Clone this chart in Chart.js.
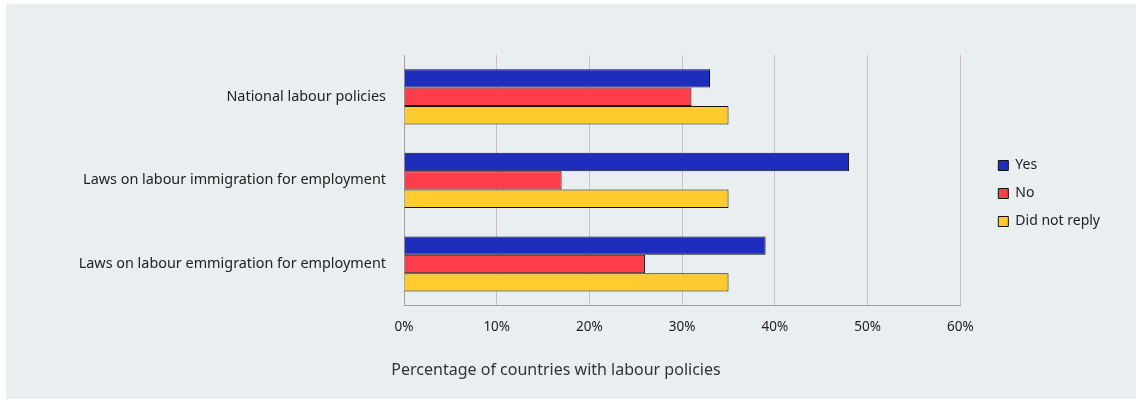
<!DOCTYPE html>
<html>
<head>
<meta charset="utf-8">
<script src="https://cdn.jsdelivr.net/npm/chart.js@4/dist/chart.umd.min.js"></script>
<style>
  body { margin: 0; background: #ffffff; }
  #panel { position: absolute; left: 6px; top: 4px; width: 1130px; height: 395px; background: #e9eef1; }
</style>
</head>
<body>
<div id="panel"><canvas id="policyChart" width="1130" height="395"></canvas></div>
<script>
// categories and series
const categories = [
    'National labour policies',
    'Laws on labour immigration for employment',
    'Laws on labour emmigration for employment'
];
const yesValues = [33, 48, 39];
const noValues = [31, 17, 26];
const noReplyValues = [35, 35, 35];
const axisTitle = 'Percentage of countries with labour policies';

Chart.defaults.font.family = '"Noto Sans", "Open Sans", sans-serif';
Chart.defaults.font.size = 14;
Chart.defaults.color = '#222222';

// bottom caption, drawn under the tick labels
const captionPlugin = {
    id: 'caption',
    afterLayout(chart) {
        // keep a wider gap between the plot and the legend
        chart.legend.left += 24;
        chart.legend.right += 24;
        chart.legend.top -= 8;
        chart.legend.bottom -= 8;
    },
    afterDraw(chart) {
        const c = chart.ctx;
        c.save();
        c.font = '16px "Noto Sans", sans-serif';
        c.fillStyle = '#333333';
        c.textAlign = 'center';
        c.textBaseline = 'middle';
        c.fillText(axisTitle, 550, 366);
        c.restore();
    }
};

const ctx = document.getElementById('policyChart').getContext('2d');
const policyChart = new Chart(ctx, {
    type: 'bar',
    data: {
        labels: categories,
        datasets: [{
            label: 'Yes',
            data: yesValues,
            backgroundColor: '#1f2dbd',
            borderColor: '#111111',
            borderWidth: 1
        }, {
            label: 'No',
            data: noValues,
            backgroundColor: '#ff3d4b',
            borderColor: '#111111',
            borderWidth: 1
        }, {
            label: 'Did not reply',
            data: noReplyValues,
            backgroundColor: '#ffcb2f',
            borderColor: '#111111',
            borderWidth: 1
        }]
    },
    options: {
        indexAxis: 'y',
        responsive: false,
        animation: false,
        categoryPercentage: 0.66,
        barPercentage: 1,
        layout: { padding: { top: 51, bottom: 51, right: 50 } },
        scales: {
            x: {
                min: 0,
                max: 60,
                ticks: {
                    stepSize: 10,
                    padding: 13,
                    font: { size: 13.5 },
                    callback: (v) => v + '%'
                },
                grid: { color: '#c4c4c4', drawTicks: false },
                border: { color: '#a0a0a0' }
            },
            y: {
                grid: { display: false, drawTicks: false },
                border: { color: '#a0a0a0' },
                ticks: { padding: 18, font: { size: 14.4 } },
                afterFit(scale) { scale.width = 398; }
            }
        },
        plugins: {
            legend: {
                position: 'right',
                labels: {
                    boxWidth: 10,
                    boxHeight: 10,
                    padding: 14,
                    color: '#222222'
                }
            },
            tooltip: { enabled: false }
        }
    },
    plugins: [captionPlugin]
});
</script>
</body>
</html>
